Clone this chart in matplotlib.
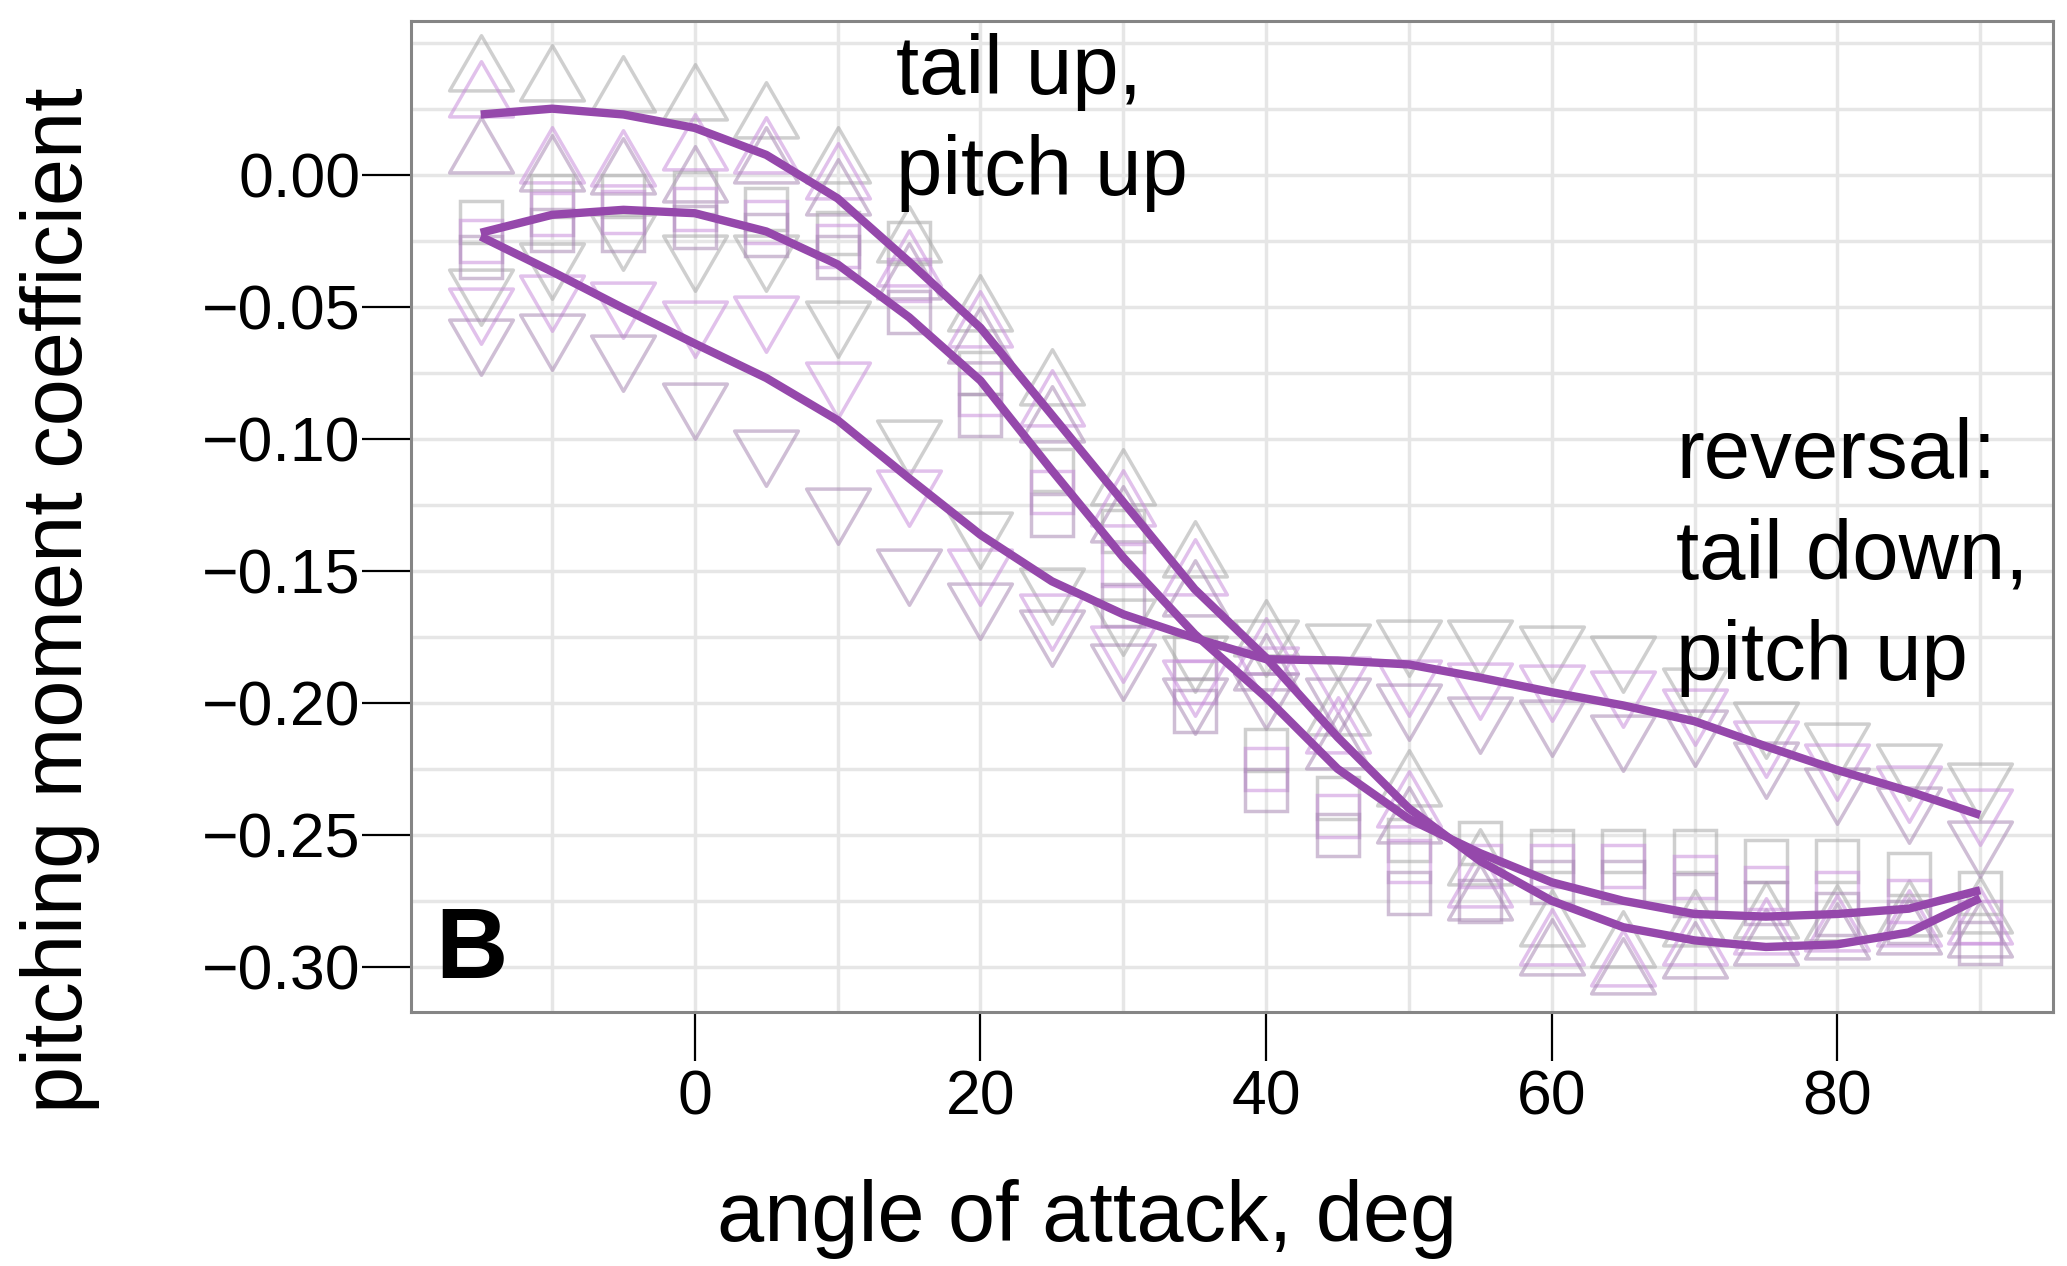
import matplotlib
matplotlib.use("Agg")
import matplotlib.pyplot as plt
from matplotlib.path import Path
import numpy as np

plt.rcParams['font.family'] = ['Liberation Sans', 'DejaVu Sans']

# ---------------- data ----------------
angle = [-15, -10, -5, 0, 5, 10, 15, 20, 25, 30, 35, 40, 45, 50, 55, 60, 65, 70, 75, 80, 85, 90]

# triangles up (three replicates)
up_rep1 = [0.039, 0.035, 0.031, 0.028, 0.021, 0.004, -0.026, -0.052, -0.080, -0.118, -0.145, -0.175, -0.205, -0.232, -0.262, -0.285, -0.293, -0.285, -0.282, -0.283, -0.281, -0.280]
up_rep2 = [0.029, 0.004, 0.003, 0.009, 0.008, -0.002, -0.035, -0.058, -0.088, -0.126, -0.152, -0.182, -0.212, -0.240, -0.270, -0.292, -0.300, -0.292, -0.288, -0.287, -0.285, -0.284]
up_rep3 = [0.008, 0.001, 0.000, -0.003, 0.004, -0.008, -0.040, -0.064, -0.094, -0.132, -0.160, -0.188, -0.218, -0.246, -0.275, -0.296, -0.303, -0.297, -0.292, -0.290, -0.288, -0.289]

# squares (three replicates)
sq_rep1 = [-0.018, -0.008, -0.008, -0.007, -0.013, -0.022, -0.026, -0.075, -0.112, -0.135, -0.183, -0.218, -0.236, -0.252, -0.253, -0.256, -0.256, -0.256, -0.260, -0.260, -0.265, -0.272]
sq_rep2 = [-0.025, -0.015, -0.014, -0.013, -0.018, -0.027, -0.040, -0.083, -0.120, -0.148, -0.192, -0.225, -0.243, -0.260, -0.262, -0.262, -0.262, -0.266, -0.270, -0.272, -0.275, -0.283]
sq_rep3 = [-0.031, -0.021, -0.021, -0.020, -0.023, -0.031, -0.052, -0.091, -0.129, -0.163, -0.203, -0.233, -0.250, -0.272, -0.275, -0.268, -0.268, -0.273, -0.276, -0.280, -0.283, -0.291]

# triangles down (three replicates)
dn_rep1 = [-0.043, -0.033, -0.022, -0.030, -0.030, -0.055, -0.100, -0.135, -0.156, -0.168, -0.182, -0.176, -0.1775, -0.176, -0.176, -0.178, -0.182, -0.194, -0.207, -0.215, -0.223, -0.230]
dn_rep2 = [-0.050, -0.045, -0.048, -0.055, -0.053, -0.078, -0.119, -0.149, -0.166, -0.178, -0.191, -0.186, -0.190, -0.191, -0.192, -0.193, -0.195, -0.202, -0.214, -0.223, -0.231, -0.240]
dn_rep3 = [-0.062, -0.060, -0.068, -0.086, -0.104, -0.126, -0.149, -0.162, -0.172, -0.185, -0.198, -0.196, -0.198, -0.200, -0.205, -0.206, -0.212, -0.210, -0.222, -0.232, -0.239, -0.252]

# fitted curves
fit_up = [0.0228, 0.0250, 0.0228, 0.0177, 0.0075, -0.0090, -0.0330, -0.0580, -0.0910, -0.1240, -0.1570, -0.1830, -0.2130, -0.2400, -0.2600, -0.2750, -0.2850, -0.2900, -0.2925, -0.2915, -0.2870, -0.2740]
fit_sq = [-0.0220, -0.0152, -0.0133, -0.0146, -0.0215, -0.0340, -0.0540, -0.0780, -0.1120, -0.1450, -0.1740, -0.1980, -0.2250, -0.2440, -0.2570, -0.2680, -0.2750, -0.2800, -0.2810, -0.2800, -0.2780, -0.2710]
fit_dn = [-0.0234, -0.0367, -0.0506, -0.0640, -0.0770, -0.0930, -0.1150, -0.1364, -0.1540, -0.1665, -0.1755, -0.1835, -0.1840, -0.1855, -0.1905, -0.1960, -0.2010, -0.2070, -0.2165, -0.2255, -0.2335, -0.2425]

x_major = [0, 20, 40, 60, 80]
x_minor = [-10, 10, 30, 50, 70, 90]
y_major = [0.00, -0.05, -0.10, -0.15, -0.20, -0.25, -0.30]
y_minor = [0.05, 0.025, -0.025, -0.075, -0.125, -0.175, -0.225, -0.275]

# ---------------- figure ----------------
fig = plt.figure(figsize=(20.67, 12.66), dpi=100)
ax = fig.add_axes([0.1987, 0.2009, 0.9932 - 0.1987, 0.9836 - 0.2009])

rep_colors = ['#a9a9a9', '#c98fdb', '#a889b4']
rep_alpha = [0.55, 0.55, 0.55]

tri_up = Path([(0, 1.1547), (-1, -0.5774), (1, -0.5774), (0, 1.1547)],
              [Path.MOVETO, Path.LINETO, Path.LINETO, Path.CLOSEPOLY])
tri_dn = Path([(0, -1.1547), (-1, 0.5774), (1, 0.5774), (0, -1.1547)],
              [Path.MOVETO, Path.LINETO, Path.LINETO, Path.CLOSEPOLY])

groups = [
    (tri_up, 53, [up_rep1, up_rep2, up_rep3]),
    (tri_dn, 53, [dn_rep1, dn_rep2, dn_rep3]),
    ('s', 30, [sq_rep1, sq_rep2, sq_rep3]),
]
for marker, ms, reps in groups:
    for i, rep in enumerate(reps):
        ax.plot(angle, rep, linestyle='none', marker=marker, ms=ms,
                mfc='none', mec=rep_colors[i], mew=2.5, alpha=rep_alpha[i], zorder=2)

curve_color = '#9548ab'
for fit in (fit_up, fit_sq, fit_dn):
    ax.plot(angle, fit, color=curve_color, lw=6, solid_capstyle='butt',
            solid_joinstyle='round', zorder=3)

ax.set_xlim(-19.9, 95.1)
ax.set_ylim(-0.317, 0.0583)

ax.set_xticks(x_major)
ax.set_xticks(x_minor, minor=True)
ax.set_yticks(y_major)
ax.set_yticks(y_minor, minor=True)
ax.set_xticklabels([str(v) for v in x_major])
ax.set_yticklabels(['0.00' if v == 0 else '\u2212%.2f' % abs(v) for v in y_major])

ax.grid(True, which='both', color='#e6e6e6', lw=2.5)
ax.set_axisbelow(True)

ax.tick_params(which='major', direction='out', length=35, width=1.6, color='black',
               labelsize=45)
ax.tick_params(axis='y', which='major', pad=1)
ax.tick_params(axis='x', which='major', pad=6)
ax.tick_params(which='minor', length=0)

for sp in ax.spines.values():
    sp.set_color('#858585')
    sp.set_linewidth(2.2)

ax.text(14.1, 0.0537, 'tail up,\npitch up', fontsize=60, ha='left', va='top',
        linespacing=1.38, zorder=5)
ax.text(68.7, -0.0916, 'reversal:\ntail down,\npitch up', fontsize=60, ha='left', va='top',
        linespacing=1.38, zorder=5)
ax.text(-18.2, -0.3043, 'B', fontsize=72, fontweight='bold', ha='left', va='baseline', zorder=5)

fig.text(0.526, 0.037, 'angle of attack, deg', fontsize=61, ha='center', va='center')
fig.text(0.029, 0.526, 'pitching moment coefficient', fontsize=61, ha='center', va='center',
         rotation=90)

fig.savefig('out.png', dpi=100)
